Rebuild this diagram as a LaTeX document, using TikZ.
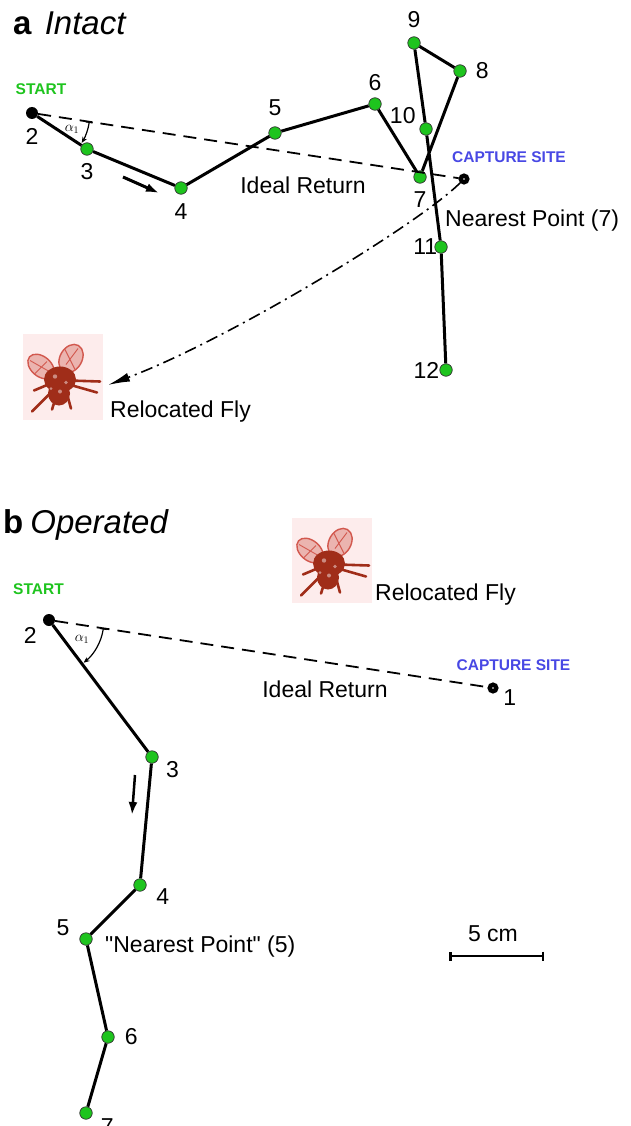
\documentclass[tikz,border=0pt]{standalone}
\usepackage{fontspec}
\setmainfont{Liberation Sans}
\usetikzlibrary{arrows.meta}

\definecolor{dotgreen}{RGB}{30,196,30}
\definecolor{tagblue}{RGB}{72,72,228}
\definecolor{flybody}{RGB}{160,45,25}
\definecolor{flywing}{RGB}{210,88,78}
\definecolor{flybg}{RGB}{253,236,236}

\tikzset{
  fix/.style={circle, draw=black!80, line width=0.7pt, fill=dotgreen, minimum size=12.5pt, inner sep=0pt},
  startdot/.style={circle, fill=black, minimum size=12pt, inner sep=0pt},
  capdot/.style={circle, draw=black, line width=4.4pt, fill=white, minimum size=6.5pt, inner sep=0pt},
  track/.style={line width=3pt, line join=round},
  ideal/.style={line width=1.8pt, dash pattern=on 13pt off 8pt},
  homing/.style={line width=1.6pt, dash pattern=on 12pt off 5pt on 2pt off 5pt},
  txt/.style={font=\fontsize{23}{26}\selectfont, inner sep=0pt},
  title/.style={font=\fontsize{33}{36}\selectfont, inner sep=0pt},
  tag/.style={font=\bfseries\fontsize{15.5}{18}\selectfont, inner sep=0pt},
  every label/.style={font=\fontsize{23}{26}\selectfont, inner sep=0pt},
  flybox/.style={fill=flybg, minimum width=80pt, minimum height=86pt, inner sep=0pt},
  fly/.pic={
    % wings
    \draw[flywing, line width=1.4pt, fill=flywing!45!white, shift={(-22,-10)}, rotate=-40] (0,0) ellipse (15 and 10);
    \draw[flywing, line width=1.4pt, fill=flywing!45!white, shift={(8,-18)}, rotate=60] (0,0) ellipse (15 and 11);
    \draw[flywing, line width=0.9pt] (-33,-16) -- (-12,-4) (-28,-3) -- (-16,-15) (2,-27) -- (12,-7) (15,-28) -- (3,-12);
    % legs
    \draw[flybody, line width=2.6pt, line cap=round]
      (-6,10) -- (-31,35) (-5,14) -- (-11,33) (3,14) -- (8,32)
      (6,4) -- (37,5) (6,8) -- (34,16) (-10,6) -- (-29,14);
    % body
    \fill[flybody] (-3,3) ellipse (16 and 13);
    \fill[flybody] (-4,17) ellipse (11 and 12);
    \fill[flybody!55!white] (-8,0) circle (2.2) (3,6) circle (1.8) (-3,15) circle (2) (-12,12) circle (1.5);
  }
}

\begin{document}
\begin{tikzpicture}[x=1pt, y=-1pt]
\useasboundingbox (0,0) rectangle (630,1126);

% ---- a: intact fly ----
\node[title, anchor=base west] (titleA) at (13,35) {\textbf{a}\hspace{13pt}\textit{Intact}};
\node[tag, text=dotgreen] (startA) at (41,89.5) {START};

\node[startdot, label={[label distance=9pt]below:2}] (a2) at (32,113) {};
\node[fix, label={[label distance=8pt]below:3}] (a3) at (87,149) {};
\node[fix, label={[label distance=9pt]below:4}] (a4) at (181,188) {};
\node[fix, label={[label distance=10pt]above:5}] (a5) at (275,133) {};
\node[fix, label={[label distance=6pt]above:6}] (a6) at (375,104) {};
\node[fix, label={[label distance=8pt]below:7}] (a7) at (420,177) {};
\node[fix, label={[label distance=9pt]right:8}] (a8) at (460,71) {};
\node[fix, label={[label distance=8pt]above:9}] (a9) at (414,43) {};
\node[fix, label={[label distance=5pt]152:10}] (a10) at (426,129) {};
\node[fix, label={[label distance=-3pt]left:11}] (a11) at (441,247) {};
\node[fix, label={[label distance=0pt]left:12}] (a12) at (446,370) {};
\node[capdot] (capA) at (464,179) {};

\node[tag, text=tagblue] (siteA) at (509,157.5) {CAPTURE SITE};
\node[txt] (idealA) at (303,185) {Ideal Return};
\node[txt, anchor=base west] (nearA) at (445,226) {Nearest Point (7)};

\draw[ideal] (a2) -- (capA);
\draw[track] (a2) -- (a3) -- (a4) -- (a5) -- (a6) -- (a7) -- (a8) -- (a9) -- (a10) -- (a11) -- (a12);

% angle between ideal and actual heading
\draw[line width=1.2pt, {Bar[width=7pt]}-{Stealth[length=6pt,width=5pt]}] (a2.center) ++(8.7:58) arc (8.7:31:58);
\node[inner sep=0pt, font=\fontsize{14}{14}\selectfont] (alphaA) at (72,129) {$\alpha_1$};

% heading arrow
\coordinate (dirA1) at (123,177);
\coordinate (dirA2) at (159,193);
\draw[line width=3pt, -{Latex[length=13pt,width=9pt]}] (dirA1) -- (dirA2);

% relocation
\node[flybox] (flyA) at (63,376.5) {};
\pic at (flyA) {fly};
\node[txt, anchor=base west] (relA) at (110,417) {Relocated Fly};
\coordinate (landA) at (108,385);
\draw[homing, -{Latex[length=22pt,width=9pt]}] (capA) .. controls +(-45,45) and +(120,-45) .. (landA);

% ---- b: operated fly ----
\node[title, anchor=base west] (titleB) at (3,533) {\textbf{b}\hspace{7pt}\textit{Operated}};
\node[tag, text=dotgreen] (startB) at (38.5,589.5) {START};

\node[startdot, label={[label distance=8pt]212:2}] (b2) at (49,620) {};
\node[fix, label={[label distance=8pt]-16:3}] (b3) at (152,757) {};
\node[fix, label={[label distance=10pt]-12:4}] (b4) at (140,885) {};
\node[fix, label={[label distance=10pt]170:5}] (b5) at (86,939) {};
\node[fix, label={[label distance=10pt]right:6}] (b6) at (108,1037) {};
\node[fix, label={[label distance=9pt]-20:7}] (b7) at (86,1113) {};
\node[capdot, label={[label distance=5pt]-10:1}] (capB) at (493,688) {};

\node[tag, text=tagblue] (siteB) at (513.5,665.5) {CAPTURE SITE};
\node[txt] (idealB) at (325,689.5) {Ideal Return};
\node[txt, anchor=base west] (nearB) at (105,952) {\textquotedbl Nearest Point\textquotedbl\ (5)};

\draw[ideal] (b2) -- (capB);
\draw[track] (b2) -- (b3) -- (b4) -- (b5) -- (b6) -- (b7);

\draw[line width=1.2pt, {Bar[width=7pt]}-{Stealth[length=6pt,width=5pt]}] (b2.center) ++(8.7:55) arc (8.7:51:55);
\node[inner sep=0pt, font=\fontsize{14}{14}\selectfont] (alphaB) at (82,639) {$\alpha_1$};

\coordinate (dirB1) at (135,775);
\coordinate (dirB2) at (132,815);
\draw[line width=2.5pt, -{Latex[length=13pt,width=9pt]}] (dirB1) -- (dirB2);

\node[flybox, minimum height=85pt] (flyB) at (332,560.5) {};
\pic at (flyB) {fly};
\node[txt, anchor=base west] (relB) at (375,600) {Relocated Fly};

% scale bar
\coordinate (barL) at (449,956);
\coordinate (barR) at (544,956);
\draw[line width=2.5pt, {Bar[width=9pt]}-{Bar[width=9pt]}] (barL) -- (barR);
\node[txt] (barText) at (493,933.5) {5 cm};
\end{tikzpicture}
\end{document}
